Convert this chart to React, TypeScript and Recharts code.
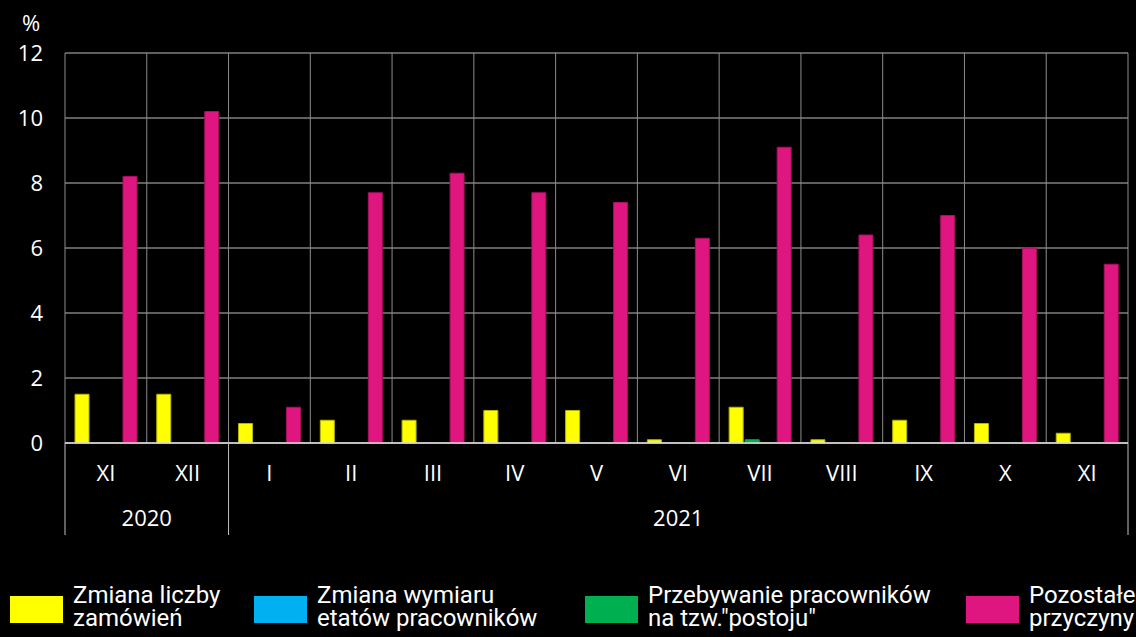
import React from 'react';
import { BarChart, Bar, XAxis, YAxis, CartesianGrid, Legend, Label } from 'recharts';

// ---- data ----
const months = ['XI', 'XII', 'I', 'II', 'III', 'IV', 'V', 'VI', 'VII', 'VIII', 'IX', 'X', 'XI'];
const years = ['2020', '2020', '2021', '2021', '2021', '2021', '2021', '2021', '2021', '2021', '2021', '2021', '2021'];
const ordersChange = [1.5, 1.5, 0.6, 0.7, 0.7, 1.0, 1.0, 0.1, 1.1, 0.1, 0.7, 0.6, 0.3];
const standby = [0, 0, 0, 0, 0, 0, 0, 0, 0.1, 0, 0, 0, 0];
const hoursChange = [0, 0, 0, 0, 0, 0, 0, 0, 0, 0, 0, 0, 0];
const otherReasons = [8.2, 10.2, 1.1, 7.7, 8.3, 7.7, 7.4, 6.3, 9.1, 6.4, 7.0, 6.0, 5.5];
const yTicks = [0, 2, 4, 6, 8, 10, 12];

const seriesOrders = { key: 'orders', name: 'Zmiana liczby\nzamówień', color: '#ffff00', stroke: '#b5b500' };
const seriesHours = { key: 'hours', name: 'Zmiana wymiaru\netatów pracowników', color: '#00b0f0', stroke: '#00b0f0' };
const seriesStandby = { key: 'standby', name: 'Przebywanie pracowników\nna tzw."postoju"', color: '#00b050', stroke: '#00b050' };
const seriesOther = { key: 'other', name: 'Pozostałe\nprzyczyny', color: '#df1680', stroke: '#a8105f' };

const barOrder = [seriesOrders, seriesStandby, seriesHours, seriesOther];
const legendOrder = [seriesOrders, seriesHours, seriesStandby, seriesOther];

const data = months.map((m, i) => ({
  month: m,
  year: years[i],
  orders: ordersChange[i],
  standby: standby[i],
  hours: hoursChange[i],
  other: otherReasons[i],
}));

// year groups derived from the years list
const groups: { label: string; start: number; end: number }[] = [];
years.forEach((y, i) => {
  const last = groups[groups.length - 1];
  if (last && last.label === y) last.end = i + 1;
  else groups.push({ label: y, start: i, end: i + 1 });
});

// layout constants
const CHART_W = 1136;
const CHART_H = 637;
const MARGIN = { top: 53, right: 8, left: 0, bottom: 100 };
const Y_AXIS_W = 65;
const MONTH_AXIS_H = 50;
const YEAR_AXIS_H = 44;
const YEAR_TICK_MARGIN = 17;
const BOUNDARY_EXTRA = 42;

const tickFont = '"Open Sans", sans-serif';
const legendFont = 'Roboto, "Noto Sans", sans-serif';
const legendLefts = [10, 254, 585, 966];

const PercentLabel = (props: any) => {
  const vb = props.viewBox || { x: 0, y: MARGIN.top };
  return (
    <text x={vb.x + 31} y={vb.y - 22} textAnchor="middle" fill="#ffffff" fontSize={22} fontFamily={tickFont}>
      %
    </text>
  );
};

const YearTick = (props: any) => {
  const { x, y, index, visibleTicksCount } = props;
  const count = visibleTicksCount || months.length;
  const axisW = typeof props.width === 'number' && props.width > 0 ? props.width : CHART_W - MARGIN.left - MARGIN.right - Y_AXIS_W;
  const band = axisW / count;
  const axisTop = y - YEAR_TICK_MARGIN;
  const lineTop = axisTop - MONTH_AXIS_H;
  const lineBottom = axisTop + BOUNDARY_EXTRA;
  const left = x - band / 2;
  const elems: React.ReactNode[] = [];
  const g = groups.find((gr) => gr.start === index);
  if (g) {
    elems.push(<line key="l" x1={left} x2={left} y1={lineTop} y2={lineBottom} stroke="#bfbfbf" strokeWidth={1} />);
    const cx = left + ((g.end - g.start) * band) / 2;
    elems.push(
      <text key="t" x={cx} y={y} dy="0.71em" textAnchor="middle" fill="#ffffff" fontSize={22} fontFamily={tickFont}>
        {g.label}
      </text>
    );
  }
  if (index === count - 1) {
    const right = x + band / 2;
    elems.push(<line key="r" x1={right} x2={right} y1={lineTop} y2={lineBottom} stroke="#bfbfbf" strokeWidth={1} />);
  }
  return <g>{elems}</g>;
};

const renderLegend = () => (
  <div style={{ position: 'relative', width: CHART_W, height: 60 }}>
    {legendOrder.map((s, i) => (
      <div
        key={s.key}
        style={{ position: 'absolute', left: legendLefts[i], top: 0, display: 'flex', alignItems: 'flex-start' }}
      >
        <div style={{ width: 53, height: 27, background: s.color, marginTop: 12 }} />
        <div
          style={{
            marginLeft: 10,
            fontFamily: legendFont,
            fontSize: 24,
            lineHeight: '23px',
            color: '#ffffff',
            whiteSpace: 'pre',
            textAlign: 'left',
          }}
        >
          {s.name}
        </div>
      </div>
    ))}
  </div>
);

export default function App() {
  return (
    <div style={{ position: 'absolute', left: 0, top: 0, width: CHART_W, height: CHART_H, background: '#000000', overflow: 'hidden' }}>
      <BarChart
        width={CHART_W}
        height={CHART_H}
        data={data}
        margin={MARGIN}
        barCategoryGap={10}
        barGap={2}
      >
        <CartesianGrid horizontal={true} vertical={false} stroke="#bfbfbf" strokeWidth={1} />
        <CartesianGrid
          horizontal={false}
          vertical={true}
          stroke="#8c8c8c"
          strokeWidth={1}
          verticalCoordinatesGenerator={({ offset }: any) =>
            Array.from({ length: months.length + 1 }, (_, i) => offset.left + (i * offset.width) / months.length)
          }
        />
        <XAxis
          xAxisId="month"
          dataKey="month"
          height={MONTH_AXIS_H}
          tickLine={false}
          tickSize={0}
          tickMargin={22}
          axisLine={{ stroke: '#e0e0e0', strokeWidth: 1.5 }}
          tick={{ fill: '#ffffff', fontSize: 22, fontFamily: tickFont }}
          interval={0}
        />
        <XAxis
          xAxisId="year"
          dataKey="month"
          height={YEAR_AXIS_H}
          tickLine={false}
          tickSize={0}
          tickMargin={YEAR_TICK_MARGIN}
          axisLine={false}
          tick={<YearTick />}
          interval={0}
        />
        <YAxis
          domain={[0, 12]}
          ticks={yTicks}
          width={Y_AXIS_W}
          axisLine={false}
          tickLine={false}
          tickSize={0}
          tickMargin={22}
          tick={{ fill: '#ffffff', fontSize: 22, fontFamily: tickFont }}
          interval={0}
        >
          <Label content={PercentLabel} />
        </YAxis>
        {barOrder.map((s) => (
          <Bar
            key={s.key}
            xAxisId="month"
            dataKey={s.key}
            name={s.name}
            fill={s.color}
            stroke={s.stroke}
            strokeWidth={1}
            isAnimationActive={false}
          />
        ))}
        <Legend
          layout="horizontal"
          verticalAlign="middle"
          align="center"
          content={renderLegend}
          wrapperStyle={{ top: 584, left: 0, width: CHART_W, height: 60 }}
        />
      </BarChart>
    </div>
  );
}
